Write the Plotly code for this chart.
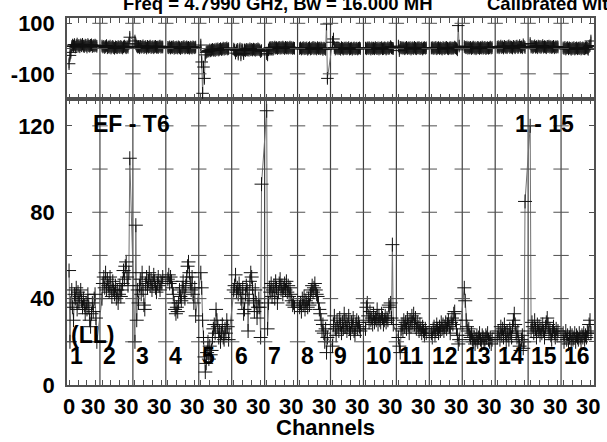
import plotly.graph_objects as go

# ---------------- data ----------------
n_chan = 32
panel_labels = [str(i) for i in range(1, 17)]
tick_channels = [0, 10, 20, 30]
first_label = "0"
repeat_label = "30"

amp1 = [53, 20, 38, 44, 36, 30, 42, 40, 45, 35, 43, 38, 41, 44, 39, 36, 40, 37, 33, 38, 35, 42, 36, 30, 27, 33, 38, 34, 40, 42, 31, 20]
amp2 = [40, 47, 50, 45, 52, 44, 49, 46, 43, 50, 45, 41, 48, 44, 42, 46, 40, 44, 38, 42, 46, 41, 44, 47, 53, 49, 55, 57, 50, 46, 52, 105]
amp3 = [20, 74, 30, 44, 38, 46, 49, 42, 52, 44, 37, 35, 47, 50, 45, 48, 52, 46, 49, 44, 47, 51, 48, 45, 43, 47, 50, 46, 44, 48, 47, 50]
amp4 = [49, 51, 47, 50, 48, 45, 42, 38, 35, 33, 36, 34, 38, 44, 41, 39, 45, 48, 43, 40, 46, 50, 55, 57, 52, 47, 44, 50, 42, 38, 45, 32]
amp5 = [52, 45, 30, 22, 13, 6, 10, 15, 20, 12, 18, 14, 16, 22, 26, 28, 24, 35, 30, 27, 22, 25, 20, 24, 28, 22, 21, 26, 24, 30, 27, 21]
amp6 = [44, 46, 51, 43, 45, 42, 47, 44, 40, 38, 45, 33, 35, 42, 46, 44, 25, 40, 48, 52, 50, 45, 39, 34, 44, 38, 31, 36, 40, 36, 22, 93]
amp7 = [127, 26, 38, 45, 43, 47, 41, 44, 46, 40, 48, 45, 38, 43, 47, 49, 44, 46, 42, 45, 47, 44, 48, 43, 46, 41, 45, 42, 39, 37, 38, 36]
amp8 = [36, 38, 34, 40, 37, 41, 35, 39, 38, 36, 40, 37, 42, 44, 46, 43, 45, 47, 44, 42, 41, 38, 35, 33, 30, 25, 28, 24, 20, 26, 15, 22]
amp9 = [18, 28, 32, 26, 23, 30, 27, 25, 31, 28, 24, 29, 26, 33, 27, 30, 25, 28, 32, 26, 24, 29, 27, 31, 25, 23, 28, 30, 26, 29, 27, 25]
amp10 = [26, 36, 38, 32, 29, 34, 30, 31, 28, 33, 29, 31, 30, 35, 28, 32, 30, 29, 33, 31, 28, 30, 32, 29, 31, 30, 37, 36, 38, 31, 65, 28]
amp11 = [22, 18, 15, 26, 28, 25, 30, 27, 29, 26, 31, 28, 24, 30, 27, 32, 29, 33, 28, 31, 26, 29, 27, 25, 28, 26, 24, 27, 25, 23, 26, 24]
amp12 = [24, 22, 26, 27, 23, 25, 28, 26, 24, 27, 25, 29, 26, 28, 25, 27, 29, 26, 28, 30, 27, 24, 29, 31, 28, 33, 34, 30, 26, 23, 19, 21]
amp13 = [45, 39, 30, 27, 25, 26, 23, 22, 24, 21, 20, 22, 19, 21, 23, 20, 22, 24, 21, 19, 23, 22, 20, 21, 23, 22, 24, 21, 20, 22, 19, 21]
amp14 = [22, 25, 24, 21, 27, 23, 26, 22, 28, 24, 20, 25, 23, 21, 26, 24, 22, 27, 30, 33, 28, 24, 22, 25, 20, 18, 16, 21, 23, 17, 20, 85]
amp15 = [120, 25, 29, 27, 24, 30, 26, 22, 28, 25, 27, 23, 26, 24, 28, 25, 22, 27, 29, 31, 28, 24, 26, 23, 21, 25, 27, 24, 22, 26, 23, 25]
amp16 = [24, 20, 22, 25, 21, 23, 19, 22, 24, 20, 23, 21, 22, 24, 20, 23, 22, 21, 24, 22, 20, 23, 22, 24, 21, 23, 22, 25, 24, 28, 30, 24]

ph1 = [-60, -27, -15, 8, 14, 10, 16, 6, 12, 18, 9, 13, 7, 15, 11, 17, 10, 8, 14, 12, 6, 16, 11, 9, 13, 15, 8, 12, 10, 14, 11, 9]
ph2 = [10, 6, 9, 4, 8, 12, 3, 7, 5, 10, 2, 6, 9, 4, 1, 7, 5, 3, 8, 6, 4, 9, 5, 2, 7, 10, 6, 3, 8, 5, 19, 45]
ph3 = [30, 18, 10, 6, 8, 3, 9, 5, 7, 11, 4, 6, 8, 2, 9, 5, 7, 10, 4, 6, 8, 3, 7, 9, 5, 6, 4, 8, 10, 5, 7, 6]
ph4 = [5, 3, 7, 2, 6, 4, 8, 1, 5, 3, 6, 2, 7, 4, 0, 5, 3, 6, 8, 2, 4, 7, 3, 5, 1, 6, 4, 2, 7, 5, 3, 6]
ph5 = [14, -53, -177, -73, -118, -25, -15, -12, -8, -10, -5, -9, -6, -3, -7, -4, -8, -2, -5, -1, -6, -3, 0, -4, -2, 2, -3, 1, -1, 3, -2, 0]
ph6 = [-2, -6, -18, -8, -3, -22, -5, -1, -25, -4, -6, -20, -5, -8, -3, -6, -4, -7, -1, -5, -3, -6, -2, -4, -7, -3, -5, -1, -4, -6, -12, -8]
ph7 = [-20, -25, -5, 2, 4, 0, 5, 3, 1, 6, 2, 4, 0, 3, 5, 1, 4, 2, 6, 3, 0, 5, 2, 4, 1, 3, 6, 2, 4, 0, 3, 1]
ph8 = [0, 3, -2, 1, 4, -1, 2, 0, 3, -3, 1, 4, -2, 0, 2, 5, -1, 3, 1, -2, 4, 0, 2, -1, 3, 1, -4, 2, 0, -3, 97, -118]
ph9 = [25, 38, 4, -2, 1, 3, -1, 2, 0, -3, 4, 1, -2, 2, 0, 3, -1, 1, 4, -2, 0, 2, -3, 1, 3, -1, 0, 2, -2, 1, 3, 0]
ph10 = [2, -1, 3, 0, 4, 1, -2, 3, 0, 2, -1, 4, 1, 0, 3, -2, 2, 1, 4, -1, 0, 3, 2, -2, 1, 4, 0, 2, 8, 3, 1, 0]
ph11 = [10, -8, 5, 2, 4, 1, 3, -1, 2, 5, 0, 3, 1, 4, -2, 2, 3, 0, 5, 1, -1, 3, 2, 4, 0, 1, 3, -2, 2, 4, 1, 3]
ph12 = [2, 4, 0, 3, 1, 5, -1, 2, 4, 0, 3, 1, -2, 4, 2, 0, 3, 5, 1, -1, 2, 4, 0, 3, 1, 2, 6, 3, 0, -5, 91, 10]
ph13 = [8, 5, 3, 6, 1, 4, 2, 5, 0, 3, 6, 1, 4, -1, 2, 5, 3, 0, 4, 2, 6, 1, 3, 5, 0, 2, 4, 1, 3, 6, 2, 4]
ph14 = [5, 8, 3, 6, 10, 4, 7, 2, 9, 5, 6, 3, 8, 11, 4, 7, 5, 2, 9, 6, 3, 8, 10, 4, 6, 12, 5, 7, 3, 15, 8, 4]
ph15 = [20, 6, 9, 4, 7, 11, 5, 8, 3, 10, 6, 9, 4, 7, 12, 5, 8, 6, 3, 9, 7, 10, 5, 8, 4, 6, 9, 3, 7, 5, 8, 6]
ph16 = [3, 0, 5, -2, 2, 4, -1, 3, 1, -3, 2, 0, 4, -2, 1, 3, -1, 2, 0, 4, -2, 1, 3, 0, -1, 2, 4, 1, -3, 8, 12, 30]

amp_panels = [amp1, amp2, amp3, amp4, amp5, amp6, amp7, amp8,
              amp9, amp10, amp11, amp12, amp13, amp14, amp15, amp16]
ph_panels = [ph1, ph2, ph3, ph4, ph5, ph6, ph7, ph8,
             ph9, ph10, ph11, ph12, ph13, ph14, ph15, ph16]

amp_grid = [20, 40, 60, 80, 100, 120]
ph_grid = [-100, 0, 100]

title_left = "Freq = 4.7990 GHz, Bw = 16.000 MH"
title_right = "Calibrated with CL 1"

# ---------------- geometry helpers ----------------
n_panels = len(amp_panels)
W = 607
H = 442
ML, MR, MT, MB = 64, 11, 16, 57
plot_h = H - MT - MB
split = 287.7 / plot_h
amp_range = [0, 132.5]
ph_range = [-199, 121]


def chan_x(p, c):
    # panel p, channel c -> position on the continuous x axis
    return p * n_chan + 2 + c * 27.0 / 31.0


xs, amps, phs = [], [], []
for p in range(n_panels):
    for c in range(n_chan):
        xs.append(chan_x(p, c))
        amps.append(amp_panels[p][c])
        phs.append(ph_panels[p][c])

FONT = "Liberation Sans, Arial, Helvetica, sans-serif"
AX = "#505050"
DATA_LINE = "#707070"
CROSS = "#111111"

fig = go.Figure()

# amplitude
fig.add_trace(go.Scatter(
    x=xs, y=amps, mode="lines+markers", xaxis="x", yaxis="y",
    line=dict(color=DATA_LINE, width=1),
    marker=dict(symbol="cross-thin", size=10, line=dict(color=CROSS, width=1), color=CROSS),
    showlegend=False, hoverinfo="skip"))

# phase
fig.add_trace(go.Scatter(
    x=xs, y=phs, mode="lines+markers", xaxis="x2", yaxis="y2",
    line=dict(color=DATA_LINE, width=1),
    marker=dict(symbol="cross-thin", size=9, line=dict(color=CROSS, width=1), color=CROSS),
    error_y=dict(type="constant", value=18, thickness=1, width=0, color="#555555"),
    showlegend=False, hoverinfo="skip"))

# crosses on panel boundaries at grid values
bx_a, by_a, bx_p, by_p = [], [], [], []
for k in range(1, n_panels):
    for v in amp_grid:
        bx_a.append(k * n_chan)
        by_a.append(v)
    for v in ph_grid:
        bx_p.append(k * n_chan)
        by_p.append(v)
fig.add_trace(go.Scatter(x=bx_a, y=by_a, mode="markers", xaxis="x", yaxis="y",
                         marker=dict(symbol="line-ew", size=11, line=dict(color=AX, width=1)),
                         showlegend=False, hoverinfo="skip"))
fig.add_trace(go.Scatter(x=bx_p, y=by_p, mode="markers", xaxis="x2", yaxis="y2",
                         marker=dict(symbol="line-ew", size=11, line=dict(color=AX, width=1)),
                         showlegend=False, hoverinfo="skip"))

# vertical panel separators
shapes = []
for k in range(1, n_panels):
    shapes.append(dict(type="line", xref="x", yref="paper", x0=k * n_chan, x1=k * n_chan,
                       y0=0, y1=1, line=dict(color="#404040", width=1.2), layer="below"))

# x tick marks (inside, mirrored)
tick_pos = [chan_x(p, c) for p in range(n_panels) for c in tick_channels]

annotations = []
# x tick labels
for p in range(n_panels):
    if p == 0:
        annotations.append(dict(text=first_label, xref="x", yref="paper", x=chan_x(0, 0), y=0,
                                yanchor="middle", xanchor="center", yshift=-21, showarrow=False,
                                font=dict(family=FONT, size=22, color="black", weight="bold")))
    annotations.append(dict(text=repeat_label, xref="x", yref="paper", x=chan_x(p, 30), y=0,
                            yanchor="middle", xanchor="center", yshift=-21, xshift=-2.5, showarrow=False,
                            font=dict(family=FONT, size=22, color="black", weight="bold")))
# panel numbers
for p, lab in enumerate(panel_labels):
    annotations.append(dict(text=lab, xref="x", yref="paper", x=p * n_chan, y=1 - (356 - MT) / plot_h,
                            xanchor="left", yanchor="middle", xshift=1, showarrow=False,
                            font=dict(family=FONT, size=23, color="black", weight="bold")))

bold23 = dict(family=FONT, size=23, color="black", weight="bold")
title_font = dict(family=FONT, size=18.5, color="black", weight="bold")
annotations += [
    dict(text="EF - T6", xref="paper", yref="paper", x=(88 - ML) / 532, y=1 - (123 - MT) / plot_h,
         xanchor="left", yanchor="middle", showarrow=False, font=bold23),
    dict(text="1 - 15", xref="paper", yref="paper", x=(514 - ML) / 532, y=1 - (123 - MT) / plot_h,
         xanchor="left", yanchor="middle", showarrow=False, font=bold23),
    dict(text="(LL)", xref="paper", yref="paper", x=(66 - ML) / 532, y=1 - (335 - MT) / plot_h,
         xanchor="left", yanchor="middle", showarrow=False, font=bold23),
    dict(text="Channels", xref="paper", yref="paper", x=(325 - ML) / 532, y=-(428 - 385) / plot_h,
         xanchor="center", yanchor="middle", showarrow=False,
         font=dict(family=FONT, size=22, color="black", weight="bold")),
    dict(text=title_left, xref="paper", yref="paper",
         x=(119 - ML) / 532, y=1 + (MT - 1.5) / plot_h, xanchor="left", yanchor="middle",
         showarrow=False, font=title_font),
    dict(text=title_right, xref="paper", yref="paper",
         x=(486 - ML) / 532, y=1 + (MT - 1.5) / plot_h, xanchor="left", yanchor="middle",
         showarrow=False, font=title_font),
]

xcommon = dict(range=[0, n_panels * n_chan], tickvals=tick_pos, ticktext=[""] * len(tick_pos),
               ticks="inside", ticklen=5, tickcolor=AX, tickwidth=1, showgrid=False, zeroline=False,
               showline=True, linecolor=AX, linewidth=1.5, mirror="ticks")

fig.update_layout(
    width=W, height=H, autosize=False,
    margin=dict(l=ML, r=MR, t=MT, b=MB, pad=0),
    paper_bgcolor="white", plot_bgcolor="white",
    showlegend=False,
    xaxis=dict(domain=[0, 1], anchor="y", **xcommon),
    xaxis2=dict(domain=[0, 1], anchor="y2", matches="x", **xcommon),
    yaxis=dict(domain=[0, split], anchor="x", range=amp_range,
               tickvals=[0] + amp_grid, ticktext=["0", "", "40", "", "80", "", "120"],
               ticks="inside", ticklen=5, tickcolor=AX, mirror="ticks",
               showline=True, linecolor=AX, linewidth=1.5, showgrid=False, zeroline=False,
               ticklabelstandoff=6,
               tickfont=dict(family=FONT, size=22, color="black", weight="bold")),
    yaxis2=dict(domain=[split, 1], anchor="x2", range=ph_range,
                tickvals=ph_grid, ticktext=["-100", "", "100"],
                ticks="inside", ticklen=5, tickcolor=AX, mirror="ticks",
                showline=True, linecolor=AX, linewidth=1.5, showgrid=False, zeroline=False,
                ticklabelstandoff=6,
                tickfont=dict(family=FONT, size=22, color="black", weight="bold")),
    shapes=shapes,
    annotations=annotations,
)

fig.write_html("out.html", config={"displayModeBar": False},
               post_script="document.body.style.margin='0';document.body.style.padding='0';")
